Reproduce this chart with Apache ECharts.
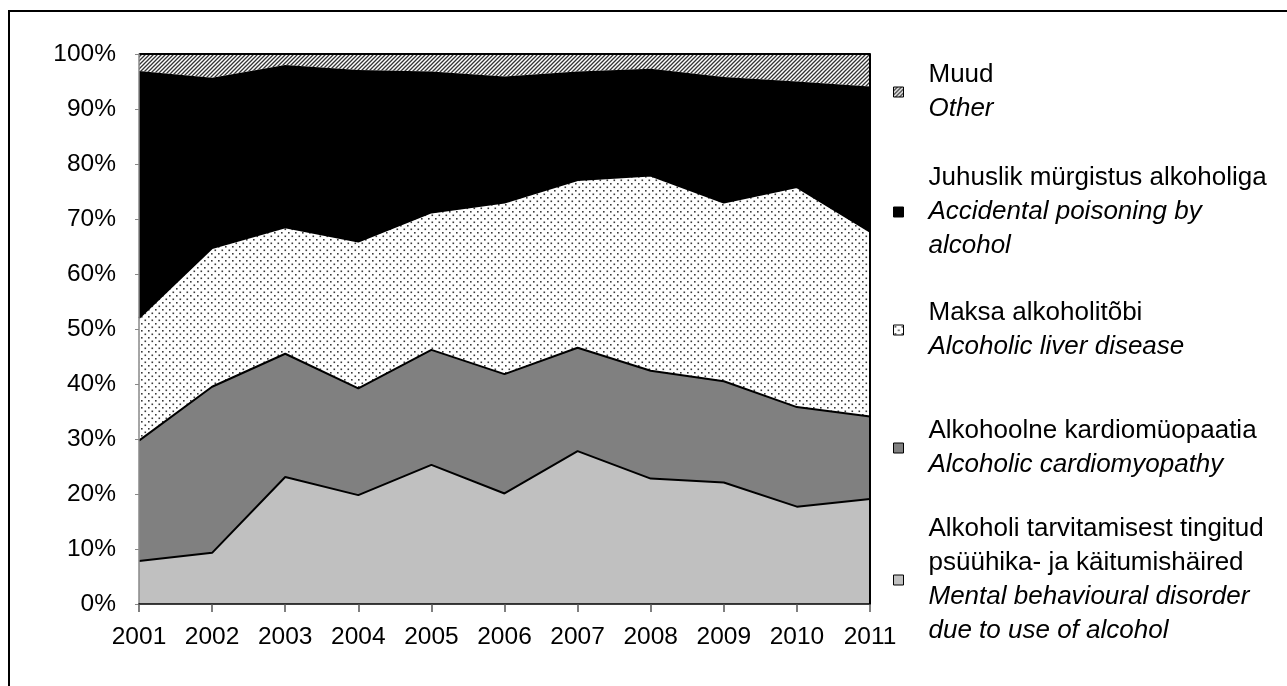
<!DOCTYPE html>
<html>
<head>
<meta charset="utf-8">
<script src="https://cdn.jsdelivr.net/npm/echarts@6/dist/echarts.min.js"></script>
<style>html,body{margin:0;padding:0;background:#fff}#c{width:1287px;height:686px}</style>
</head>
<body>
<div id="c"></div>
<script>
const years = ['2001','2002','2003','2004','2005','2006','2007','2008','2009','2010','2011'];
const mental = [7.8, 9.3, 23.1, 19.8, 25.3, 20.1, 27.8, 22.8, 22.1, 17.7, 19.1];
const cardio = [21.9, 30.2, 22.4, 19.4, 20.9, 21.7, 18.8, 19.6, 18.4, 18.1, 15.0];
const liver = [22.3, 25.2, 23.0, 26.7, 25.0, 31.2, 30.5, 35.5, 32.5, 40.0, 33.6];
const accidental = [44.9, 31.0, 29.5, 31.2, 25.6, 22.9, 19.7, 19.4, 22.8, 19.2, 26.4];
const other = [3.1, 4.3, 2.0, 2.9, 3.2, 4.1, 3.2, 2.7, 4.2, 5.0, 5.9];

const names = ['Alkoholi', 'Alkohoolne', 'Maksa', 'Juhuslik', 'Muud'];
const legendEt = {
  Muud: ['Muud'],
  Juhuslik: ['Juhuslik mürgistus alkoholiga'],
  Maksa: ['Maksa alkoholitõbi'],
  Alkohoolne: ['Alkohoolne kardiomüopaatia'],
  Alkoholi: ['Alkoholi tarvitamisest tingitud', 'psüühika- ja käitumishäired']
};
const legendEn = {
  Muud: ['Other'],
  Juhuslik: ['Accidental poisoning by', 'alcohol'],
  Maksa: ['Alcoholic liver disease'],
  Alkohoolne: ['Alcoholic cardiomyopathy'],
  Alkoholi: ['Mental behavioural disorder', 'due to use of alcohol']
};

function hatchPattern() {
  const c = document.createElement('canvas');
  c.width = 4; c.height = 4;
  const g = c.getContext('2d');
  g.fillStyle = '#fff'; g.fillRect(0, 0, 4, 4);
  g.strokeStyle = '#333'; g.lineWidth = 1.3;
  g.beginPath();
  g.moveTo(-1, 5); g.lineTo(5, -1);
  g.moveTo(-3, 3); g.lineTo(3, -3);
  g.moveTo(1, 7); g.lineTo(7, 1);
  g.stroke();
  return c;
}
function dotPattern() {
  const c = document.createElement('canvas');
  c.width = 7; c.height = 7;
  const g = c.getContext('2d');
  g.fillStyle = '#fff'; g.fillRect(0, 0, 7, 7);
  g.fillStyle = '#3a3a3a';
  g.fillRect(1, 1, 1.6, 1.6);
  g.fillRect(4.5, 4.5, 1.6, 1.6);
  return c;
}
const hatchFill = { image: hatchPattern(), repeat: 'repeat' };
const dotFill = { image: dotPattern(), repeat: 'repeat' };

const fills = {
  Alkoholi: '#c0c0c0',
  Alkohoolne: '#808080',
  Maksa: dotFill,
  Juhuslik: '#000000',
  Muud: hatchFill
};
const values = {
  Alkoholi: mental, Alkohoolne: cardio, Maksa: liver, Juhuslik: accidental, Muud: other
};
const lineW = { Alkoholi: 2, Alkohoolne: 2, Maksa: 2, Juhuslik: 0, Muud: 2 };
const zs = { Alkoholi: 7, Alkohoolne: 6, Maksa: 5, Juhuslik: 4, Muud: 3 };
const legendTops = { Muud: 62, Juhuslik: 165, Maksa: 300, Alkohoolne: 418, Alkoholi: 516 };

const font = 'Liberation Sans, Arial, sans-serif';
const rich = {
  a: { fontSize: 26, fontFamily: font, color: '#000', lineHeight: 34, padding: [0, 0, 0, 20] },
  b: { fontSize: 26, fontFamily: font, color: '#000', lineHeight: 34, fontStyle: 'italic', padding: [0, 0, 0, 20] }
};

const legends = names.map(n => ({
  data: [{ name: n, itemStyle: { color: fills[n], borderColor: '#000', borderWidth: 1 } }],
  orient: 'vertical',
  left: 893,
  top: legendTops[n],
  padding: 0,
  itemWidth: 10,
  itemHeight: 10,
  icon: 'rect',
  selectedMode: false,
  formatter: function (name) {
    const et = legendEt[name].map(s => '{a|' + s + '}');
    const en = legendEn[name].map(s => '{b|' + s + '}');
    return et.concat(en).join('\n');
  },
  textStyle: { rich: rich }
}));

const series = names.map(n => ({
  name: n,
  type: 'line',
  stack: 'total',
  data: values[n],
  symbol: 'none',
  showSymbol: false,
  z: zs[n],
  lineStyle: { color: '#000', width: lineW[n], opacity: lineW[n] ? 1 : 0 },
  itemStyle: { color: fills[n] },
  areaStyle: { color: fills[n], opacity: 1 },
  emphasis: { disabled: true }
}));

const chart = echarts.init(document.getElementById('c'), null, { renderer: 'canvas' });
chart.setOption({
  animation: false,
  backgroundColor: '#fff',
  graphic: [{
    type: 'rect',
    shape: { x: 9, y: 11, width: 1400, height: 800 },
    style: { fill: 'none', stroke: '#000', lineWidth: 2 },
    silent: true
  }],
  grid: { left: 139, right: 417, top: 54, bottom: 82 },
  legend: legends,
  xAxis: {
    type: 'category',
    data: years,
    boundaryGap: false,
    z: 10,
    axisLine: { lineStyle: { color: '#000', width: 1.5 } },
    axisTick: { show: true, length: 8, lineStyle: { color: '#555', width: 1.5 } },
    axisLabel: { color: '#000', fontSize: 24.5, fontFamily: font, margin: 21 },
    splitLine: { show: false }
  },
  yAxis: [{
    type: 'value',
    min: 0, max: 100, interval: 10,
    z: 10,
    axisLine: { show: true, lineStyle: { color: '#888', width: 1.5 } },
    axisTick: { show: true, length: 4, lineStyle: { color: '#888' } },
    axisLabel: { color: '#000', fontSize: 24.5, fontFamily: font, margin: 23, formatter: '{value}%' },
    splitLine: { show: false }
  }, {
    type: 'value',
    position: 'right',
    min: 0, max: 100, interval: 10,
    z: 10,
    axisLine: { show: true, lineStyle: { color: '#000', width: 2 } },
    axisTick: { show: false },
    axisLabel: { show: false },
    splitLine: { show: false }
  }],
  series: series
});
</script>
</body>
</html>
